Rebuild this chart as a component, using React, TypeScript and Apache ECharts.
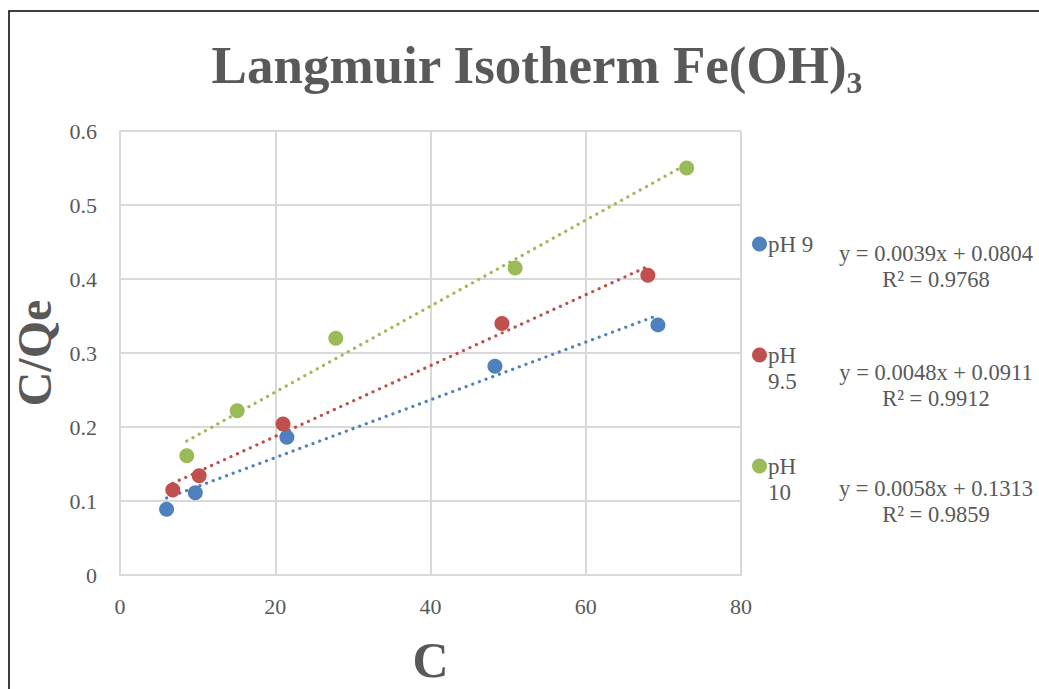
import React, { useEffect, useRef } from "react";
import * as echarts from "echarts";

const seriesNames = ["pH 9", "pH 9.5", "pH 10"];
const colors = ["#4F81BD", "#C0504D", "#9BBB59"];

const ph9Data: [number, number][] = [
  [6.0, 0.089], [9.7, 0.111], [21.5, 0.186], [48.3, 0.282], [69.3, 0.338],
];
const ph95Data: [number, number][] = [
  [6.8, 0.115], [10.2, 0.134], [21.0, 0.204], [49.2, 0.340], [68.0, 0.405],
];
const ph10Data: [number, number][] = [
  [8.6, 0.161], [15.1, 0.222], [27.8, 0.320], [50.9, 0.415], [73.0, 0.550],
];

const ph9Trend: [number, number][] = [[6.0, 0.104], [69.3, 0.351]];
const ph95Trend: [number, number][] = [[6.8, 0.124], [68.0, 0.417]];
const ph10Trend: [number, number][] = [[8.6, 0.181], [73.0, 0.555]];

const equations = [
  "y = 0.0039x + 0.0804",
  "y = 0.0048x + 0.0911",
  "y = 0.0058x + 0.1313",
];
const rSquared = ["R² = 0.9768", "R² = 0.9912", "R² = 0.9859"];
const legendLabels = ["pH 9", "\npH\n9.5", "\npH\n10"];

const titleText = "Langmuir Isotherm Fe(OH)₃";
const xAxisName = "C";
const yAxisName = "C/Qe";

const FONT = "'Liberation Serif', 'Times New Roman', serif";
const TEXT = "#595959";

export default function App() {
  const ref = useRef<HTMLDivElement>(null);
  useEffect(() => {
    document.body.style.margin = "0";
    if (!ref.current) return;
    const chart = echarts.init(ref.current, null, { renderer: "svg" });
    const scatterSets = [ph9Data, ph95Data, ph10Data];
    const trendSets = [ph9Trend, ph95Trend, ph10Trend];
    const eqTop = [240, 359, 475];
    const legendCenters = [239, 350, 461];
    const series: any[] = [];
    scatterSets.forEach((d, i) => {
      series.push({
        name: seriesNames[i],
        type: "scatter",
        data: d,
        symbol: "circle",
        symbolSize: 15,
        itemStyle: { color: colors[i], opacity: 1 },
        z: 3,
      });
    });
    trendSets.forEach((d, i) => {
      series.push({
        name: seriesNames[i] + " trend",
        type: "line",
        data: d,
        symbol: "none",
        lineStyle: { color: colors[i], width: 3.2, type: [0.1, 7], cap: "round" },
        z: 2,
      });
    });
    const graphics: any[] = [
      {
        type: "rect",
        shape: { x: 9, y: 11, width: 1200, height: 1000 },
        style: { fill: "none", stroke: "#000", lineWidth: 1.5 },
        silent: true,
      },
    ];
    equations.forEach((e, i) => {
      graphics.push({
        type: "text",
        x: 936,
        y: eqTop[i],
        style: {
          text: e + "\n" + rSquared[i],
          fill: TEXT,
          font: `22.5px ${FONT}`,
          textAlign: "center",
          textVerticalAlign: "top",
          lineHeight: 26,
        },
      });
    });

    const legends = seriesNames.map((n, i) => {
      const lines = legendLabels[i].split("\n").length;
      return {
        orient: "vertical",
        left: 747,
        top: legendCenters[i] - (lines * 26) / 2,
        itemWidth: 15,
        itemHeight: 15,
        itemGap: 0,
        icon: "circle",
        data: [{ name: n, itemStyle: { color: colors[i] } }],
        formatter: () => legendLabels[i],
        textStyle: { fontFamily: FONT, fontSize: 23, color: TEXT, lineHeight: 26, padding: [0, 0, 0, -4] },
      };
    });

    chart.setOption({
      animation: false,
      backgroundColor: "#fff",
      title: {
        text: titleText,
        left: 532,
        textAlign: "center",
        top: 33,
        textStyle: {
          fontFamily: FONT,
          fontSize: 53,
          fontWeight: "bold",
          color: TEXT,
        },
      },
      grid: { left: 120, right: 298, top: 131, bottom: 114, outerBoundsMode: "none", containLabel: false },
      xAxis: {
        type: "value",
        min: 0,
        max: 80,
        interval: 20,
        name: xAxisName,
        nameLocation: "middle",
        nameGap: 60,
        nameTextStyle: { fontFamily: FONT, fontSize: 50, fontWeight: "bold", color: TEXT },
        axisLine: { show: true, lineStyle: { color: "#d9d9d9", width: 2 } },
        axisTick: { show: false },
        splitLine: { show: true, lineStyle: { color: "#d9d9d9", width: 2 } },
        axisLabel: { fontFamily: FONT, fontSize: 22, color: TEXT, margin: 20 },
      },
      yAxis: {
        type: "value",
        min: 0,
        max: 0.6,
        interval: 0.1,
        name: yAxisName,
        nameLocation: "middle",
        nameGap: 52,
        nameRotate: 90,
        nameTextStyle: { fontFamily: FONT, fontSize: 48, fontWeight: "bold", color: TEXT },
        axisLine: { show: true, lineStyle: { color: "#d9d9d9", width: 2 } },
        axisTick: { show: false },
        splitLine: { show: true, lineStyle: { color: "#d9d9d9", width: 2 } },
        axisLabel: {
          fontFamily: FONT,
          fontSize: 22,
          color: TEXT,
          margin: 23,
          formatter: (v: number) => (v === 0 ? "0" : v.toFixed(1)),
        },
      },
      legend: legends,
      graphic: graphics,
      series,
    });
    return () => chart.dispose();
  }, []);
  return <div ref={ref} style={{ width: 1039, height: 689 }} />;
}
